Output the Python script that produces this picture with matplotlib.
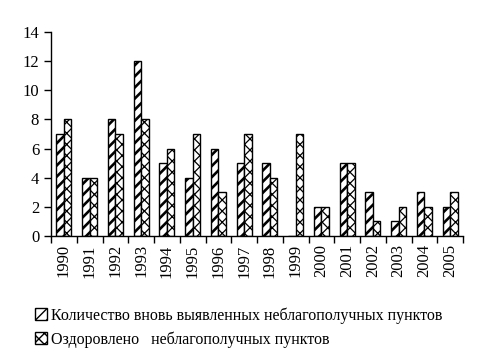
import matplotlib

matplotlib.use("Agg")
import matplotlib.pyplot as plt
import numpy as np

years = [str(y) for y in range(1990, 2006)]
new_points = [7, 4, 8, 12, 5, 4, 6, 5, 5, 0, 2, 5, 3, 1, 3, 2]
recovered = [8, 4, 7, 8, 6, 7, 3, 7, 4, 7, 2, 5, 1, 2, 2, 3]

plt.rcParams["font.family"] = ["Liberation Serif", "DejaVu Serif"]

fig = plt.figure(figsize=(4.79, 3.56), dpi=100)
ax = fig.add_axes([51 / 479, 1 - 236 / 356, (463 - 51) / 479, (236 - 32) / 356])

x = np.arange(len(years))
w = 0.29
with plt.rc_context({"hatch.linewidth": 1.9, "hatch.color": "#222222"}):
    b1 = ax.bar(x - w / 2, new_points, width=w, facecolor="white", edgecolor="black",
                hatch="///", linewidth=1.0,
                label="Количество вновь выявленных неблагополучных пунктов")
with plt.rc_context({"hatch.linewidth": 0.9}):
    b2 = ax.bar(x + w / 2, recovered, width=w, facecolor="white", edgecolor="black",
                hatch="xxx", linewidth=1.0, label="Оздоровлено   неблагополучных пунктов")
for p in b1:
    if hasattr(p, "set_hatch_linewidth"):
        p.set_hatch_linewidth(1.9)
for p in b2:
    if hasattr(p, "set_hatch_linewidth"):
        p.set_hatch_linewidth(0.9)

ax.set_xlim(-0.5, len(years) - 0.5)
ax.set_ylim(0, 14)
ax.set_yticks(range(0, 15, 2))
ax.set_xticks(x)
ax.set_xticklabels(years, rotation=90, fontsize=12)
ax.set_xticks(np.arange(-0.5, len(years), 1), minor=True)
ax.tick_params(axis="x", which="major", length=0, pad=6)
ax.tick_params(axis="x", which="minor", length=5, direction="out", width=1)
ax.tick_params(axis="y", length=5, direction="out", width=1, labelsize=12)
for s in ["top", "right"]:
    ax.spines[s].set_visible(False)
for s in ["left", "bottom"]:
    ax.spines[s].set_linewidth(1.0)

fig.legend(loc="upper left", bbox_to_anchor=(29 / 479, 1 - 301 / 356), frameon=False,
           fontsize=11.5, handlelength=0.75, handleheight=0.75, handletextpad=0.2,
           labelspacing=0.45, borderaxespad=0)

fig.savefig("out.png", dpi=100)
